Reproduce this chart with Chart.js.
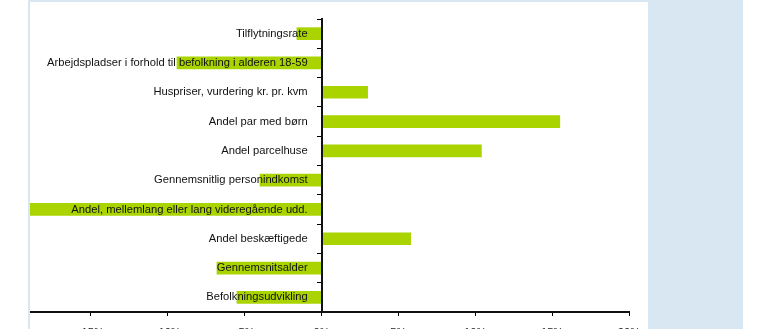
<!DOCTYPE html>
<html>
<head>
<meta charset="utf-8">
<script src="https://cdn.jsdelivr.net/npm/chart.js@4.4.1/dist/chart.umd.min.js"></script>
<style>
  html, body { margin: 0; padding: 0; background: #fff; overflow: hidden; width: 762px; height: 329px; }
  #panel { position: absolute; left: 28px; top: 0; width: 715px; height: 340px; background: #d8e7f2; }
  #box { position: absolute; left: 30px; top: 2px; width: 618px; height: 340px; background: #fff; overflow: hidden; }
  #c { position: absolute; left: -30px; top: -2px; }
</style>
</head>
<body>
<div id="panel"></div>
<div id="box"><canvas id="c" width="648" height="352"></canvas></div>
<script>
"use strict";

// categories, top to bottom
var labels = [
    'Tilflytningsrate',
    'Arbejdspladser i forhold til befolkning i alderen 18-59',
    'Huspriser, vurdering kr. pr. kvm',
    'Andel par med børn',
    'Andel parcelhuse',
    'Gennemsnitlig personindkomst',
    'Andel, mellemlang eller lang videregående udd.',
    'Andel beskæftigede',
    'Gennemsnitsalder',
    'Befolkningsudvikling'
];
// percent difference
var values = [-1.6, -9.4, 3.0, 15.5, 10.4, -4.0, -21, 5.8, -6.8, -5.5];
var xTicks = [-20, -15, -10, -5, 0, 5, 10, 15, 20];

var font = { family: "'Liberation Sans', Arial, sans-serif", size: 11.2 };

var ctx = document.getElementById('c').getContext('2d');
new Chart(ctx, {
    type: 'bar',
    data: {
        labels: labels,
        datasets: [{
            data: values,
            backgroundColor: '#aad400',
            borderWidth: 0,
            barThickness: 12
        }]
    },
    options: {
        indexAxis: 'y',
        responsive: false,
        animation: false,
        devicePixelRatio: 1,
        layout: { padding: { left: 14, right: 19, top: 19, bottom: 0 } },
        plugins: { legend: { display: false }, tooltip: { enabled: false } },
        scales: {
            x: {
                position: 'bottom',
                min: xTicks[0],
                max: xTicks[xTicks.length - 1],
                afterBuildTicks: function (s) { s.ticks = xTicks.map(function (v) { return { value: v }; }); },
                afterFit: function (s) { s.height = 40; s.paddingLeft = 0; s.paddingRight = 0; },
                grid: { drawOnChartArea: false, drawTicks: true, tickLength: 4, color: '#000' },
                border: { display: true, color: '#111', width: 2 },
                ticks: { color: '#222', font: font, padding: 10, maxRotation: 0,
                    callback: function (v) { return v + '%'; } }
            },
            y: {
                position: { x: 0 },
                grid: { drawOnChartArea: false, drawTicks: true, tickLength: 4, color: '#000', offset: true },
                border: { display: true, color: '#111', width: 2, z: 1 },
                ticks: { display: false }
            },
            // category labels, set a little left of the zero line and drawn above the bars
            yLabels: {
                type: 'category',
                axis: 'y',
                offset: true,
                position: { x: -0.9 },
                grid: { display: false },
                border: { display: false },
                ticks: { color: '#111', font: font, autoSkip: false, z: 2 }
            }
        }
    }
});
</script>
</body>
</html>
